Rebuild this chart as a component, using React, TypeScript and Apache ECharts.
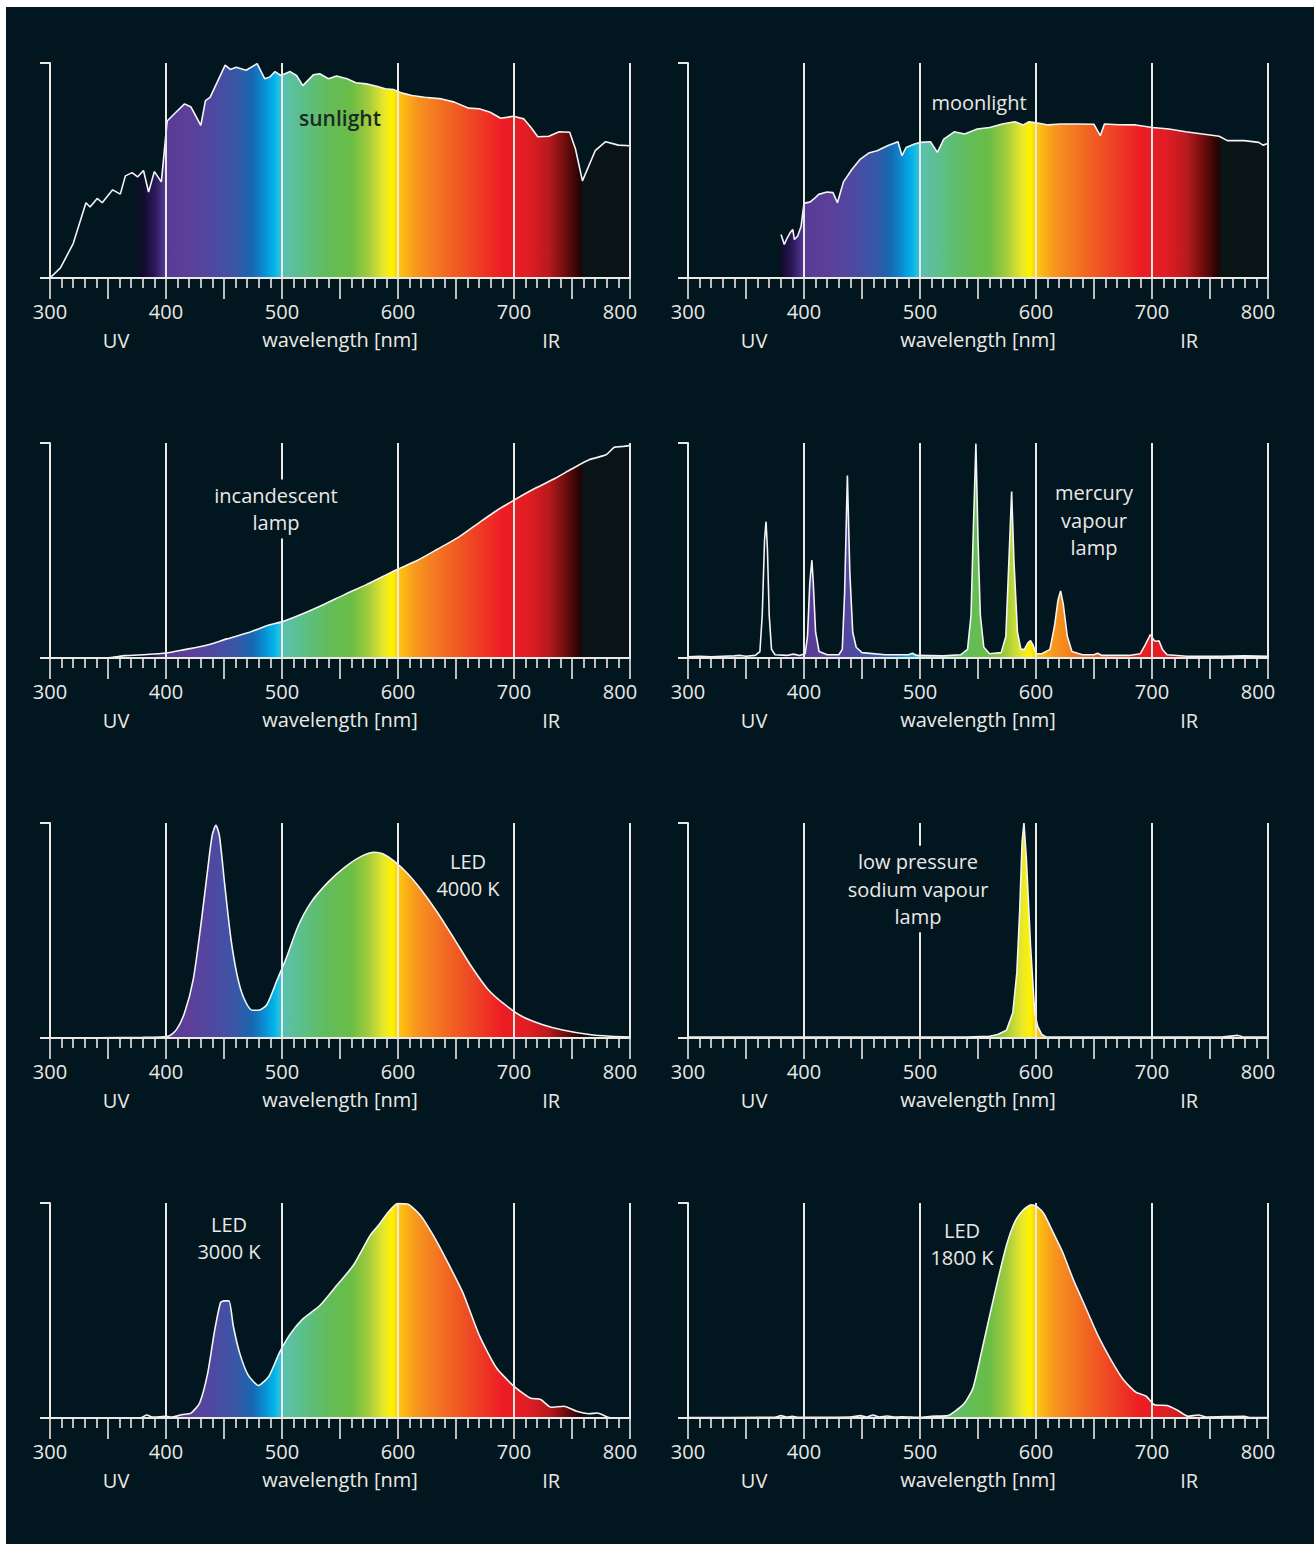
import React, { useEffect, useRef } from "react";
import * as echarts from "echarts";

const BG = "#021620";
const FG = "#ebe9e4";
const FONT = "'Open Sans', 'Noto Sans', sans-serif";

// ---- data: [wavelength nm, relative intensity 0..1] ----
const sunlight: [number, number][] = [
  [300, 0], [309, 0.047], [320, 0.16], [331, 0.35], [334.5, 0.33], [340.7, 0.37], [345, 0.35], [354, 0.41],
  [360.6, 0.39], [365, 0.475], [370.8, 0.49], [375.5, 0.47], [380.6, 0.5], [385, 0.4], [390, 0.495], [396, 0.447],
  [401, 0.73], [407, 0.763], [416, 0.81], [421.6, 0.795], [430, 0.71], [434, 0.825], [438, 0.84], [451, 0.99],
  [455.4, 0.97], [460.5, 0.98], [469, 0.966], [478.6, 0.997], [485, 0.927], [489.5, 0.935], [494, 0.96], [499, 0.942],
  [507, 0.96], [512.5, 0.942], [518, 0.895], [527, 0.945], [532.5, 0.95], [540, 0.927], [547, 0.94], [556, 0.927],
  [563.7, 0.908], [572.6, 0.903], [581.6, 0.892], [589, 0.88], [596, 0.877], [603, 0.861], [612, 0.849], [623, 0.841],
  [637.7, 0.833], [648.6, 0.818], [661, 0.79], [670, 0.787], [679.5, 0.771], [688.5, 0.743], [699.4, 0.752],
  [708.5, 0.74], [714.7, 0.7], [720.5, 0.657], [730, 0.659], [739, 0.68], [748, 0.678], [753, 0.6], [759, 0.452],
  [770, 0.592], [779, 0.634], [790, 0.618], [800, 0.615],
];

const moonlight: [number, number][] = [
  [380.2, 0.202], [383, 0.156], [385.6, 0.187], [388, 0.21], [390.3, 0.226], [391.7, 0.179], [394.6, 0.195],
  [397.5, 0.241], [400, 0.347], [405.4, 0.354], [409, 0.37], [412.6, 0.389], [419.8, 0.4], [425, 0.397], [428.8, 0.35],
  [434, 0.447], [441.4, 0.506], [448.6, 0.553], [455.8, 0.581], [463, 0.592], [472, 0.615], [481, 0.634],
  [484.5, 0.569], [488, 0.607], [495.3, 0.623], [500.7, 0.631], [509, 0.634], [515, 0.584], [520.5, 0.646],
  [529.5, 0.68], [538.5, 0.67], [549.3, 0.693], [560, 0.7], [571, 0.716], [581.7, 0.727], [589, 0.712], [594, 0.727],
  [601.4, 0.721], [610.4, 0.712], [621.2, 0.716], [635.6, 0.716], [650, 0.715], [655.4, 0.662], [659, 0.716],
  [671.6, 0.713], [686, 0.712], [700.4, 0.7], [714.7, 0.693], [729, 0.68], [743.5, 0.67], [757.9, 0.659],
  [765, 0.639], [779.5, 0.639], [792, 0.631], [795.7, 0.618], [800, 0.626],
];

const incandescent: [number, number][] = [
  [300, 0], [349, 0], [365, 0.011], [383.5, 0.016], [400, 0.023], [416, 0.039], [434, 0.058], [452.5, 0.089],
  [470.6, 0.117], [488.8, 0.153], [499.7, 0.168], [517.9, 0.206], [536, 0.249], [554.2, 0.296], [572.3, 0.34],
  [586.9, 0.379], [599.6, 0.413], [616, 0.452], [634, 0.506], [652, 0.561], [670.3, 0.631], [684.8, 0.685],
  [699.3, 0.732], [717.4, 0.787], [735.6, 0.836], [750, 0.88], [764.8, 0.922], [779.3, 0.945], [786.5, 0.98],
  [793.8, 0.984], [800, 0.989],
];

const mercury: [number, number][] = [
  [300, 0.006], [310, 0.008], [320, 0.006], [330, 0.008], [340, 0.01], [345, 0.012], [350, 0.008], [358, 0.012],
  [362, 0.03], [364, 0.2], [366, 0.55], [367.3, 0.634], [368.5, 0.5], [370, 0.2], [372, 0.04], [375, 0.015],
  [385, 0.012], [391, 0.018], [396, 0.012], [401, 0.02], [403, 0.1], [405, 0.35], [406.8, 0.455], [408, 0.35],
  [410, 0.12], [413, 0.03], [420, 0.015], [430, 0.015], [433, 0.04], [435, 0.3], [437.4, 0.849], [439.5, 0.4],
  [442, 0.12], [445, 0.05], [450, 0.025], [470, 0.015], [490, 0.015], [493.5, 0.022], [497, 0.012], [520, 0.01],
  [535, 0.015], [541, 0.04], [544, 0.2], [546, 0.6], [548.2, 0.997], [550, 0.55], [552, 0.2], [555, 0.05],
  [560, 0.02], [570, 0.025], [574, 0.1], [577, 0.5], [579, 0.774], [581, 0.45], [584, 0.12], [587, 0.04],
  [590, 0.04], [593, 0.07], [595.3, 0.081], [597.5, 0.06], [600, 0.02], [605, 0.02], [612, 0.04], [616, 0.15],
  [619, 0.27], [621.2, 0.312], [623.5, 0.25], [627, 0.1], [631, 0.03], [640, 0.015], [650, 0.015], [653, 0.022],
  [657, 0.012], [680, 0.012], [690, 0.02], [694, 0.06], [698.6, 0.109], [702, 0.08], [704, 0.078], [706, 0.08],
  [709, 0.04], [713, 0.015], [730, 0.008], [760, 0.008], [780, 0.01], [800, 0.008],
];

const led4000: [number, number][] = [
  [300, 0], [380, 0.003], [401.7, 0.008], [409, 0.039], [416, 0.117], [423.5, 0.273], [430.7, 0.553], [436, 0.787],
  [439.8, 0.942], [443, 0.989], [446, 0.942], [450.7, 0.709], [456, 0.46], [461.5, 0.288], [467, 0.187],
  [474.3, 0.129], [479.7, 0.129], [487, 0.156], [496, 0.273], [503.3, 0.366], [514, 0.522], [525, 0.631],
  [539.6, 0.724], [554, 0.794], [568.7, 0.846], [579.6, 0.864], [586.9, 0.857], [597.7, 0.818], [608.6, 0.763],
  [619.5, 0.693], [634, 0.584], [648.6, 0.46], [663, 0.335], [677.6, 0.226], [692, 0.156], [706.7, 0.101],
  [724.8, 0.062], [743, 0.036], [764.8, 0.016], [783, 0.008], [800, 0.005],
];

const sodium: [number, number][] = [
  [300, 0.004], [350, 0.004], [400, 0.005], [450, 0.004], [500, 0.005], [540, 0.004], [560, 0.008], [567, 0.016],
  [574.5, 0.036], [580, 0.117], [583.5, 0.304], [586, 0.6], [588, 0.911], [589.6, 1.0], [591.7, 0.833],
  [595.3, 0.428], [598.9, 0.117], [601.4, 0.055], [605, 0.016], [608.6, 0.005], [650, 0.004], [700, 0.004],
  [760, 0.004], [770, 0.01], [774, 0.012], [778, 0.006], [800, 0.004],
];

const led3000: [number, number][] = [
  [300, 0], [378, 0], [380, 0.005], [383.5, 0.014], [388, 0.004], [395, 0.006], [400, 0.008], [405, 0.004],
  [410, 0.01], [414, 0.016], [421.6, 0.023], [429, 0.07], [436, 0.21], [441.6, 0.397], [447, 0.537], [450, 0.545],
  [454.3, 0.545], [458, 0.428], [463.4, 0.304], [470.6, 0.202], [479.7, 0.151], [488.8, 0.195], [497.8, 0.304],
  [506.9, 0.389], [517.8, 0.46], [532.4, 0.522], [546.9, 0.615], [561.4, 0.709], [576, 0.849], [583.2, 0.896],
  [590.5, 0.95], [599.6, 0.997], [608.6, 0.994], [619.5, 0.942], [630.4, 0.849], [641.3, 0.74], [655.8, 0.584],
  [670.3, 0.382], [684.8, 0.234], [699.3, 0.151], [713.9, 0.093], [723, 0.086], [732, 0.05], [743, 0.055],
  [754, 0.031], [764.8, 0.02], [772, 0.023], [781, 0.003], [785, 0], [800, 0],
];

const led1800: [number, number][] = [
  [300, 0.002], [375, 0.003], [380, 0.011], [385, 0.004], [390, 0.008], [395, 0.003], [440, 0.004],
  [448.6, 0.011], [454, 0.005], [459.4, 0.014], [465, 0.005], [472, 0.009], [478, 0.004], [484.5, 0.006],
  [500, 0.003], [509.7, 0.008], [524, 0.011], [531.3, 0.036], [538.5, 0.07], [545.7, 0.14], [552.9, 0.304],
  [560, 0.475], [567.3, 0.646], [574.5, 0.802], [581.7, 0.911], [588.8, 0.966], [596, 0.992], [601.4, 0.981],
  [606.8, 0.95], [614, 0.872], [623, 0.771], [632, 0.646], [642.8, 0.514], [653.6, 0.382], [664.4, 0.273],
  [675.2, 0.179], [686, 0.12], [695, 0.101], [702, 0.062], [713, 0.058], [722, 0.036], [731, 0.008], [740, 0.014],
  [747, 0.005], [779.5, 0.008], [785, 0.002], [800, 0.002],
];

// visible spectrum colour stops [wavelength, colour]
const spectrum: [number, string][] = [
  [300, BG], [372, BG], [380, "#120a2c"], [390, "#2a1858"], [400, "#573b96"], [420, "#5d3f99"], [440, "#4f48a0"],
  [460, "#3a56a6"], [475, "#1769b3"], [485, "#0a8fd3"], [493, "#00b3e8"], [497, "#25bde0"], [503, "#5cc0aa"],
  [520, "#5cbf85"], [540, "#62bc5a"], [560, "#6abd45"], [575, "#a5cc3c"], [588, "#e8e82a"], [595, "#fff200"],
  [602, "#fdc010"], [615, "#f7981e"], [640, "#f26b22"], [665, "#ee4424"], [690, "#ed1c24"], [712, "#e11d24"],
  [730, "#b81a1e"], [745, "#6a0c0c"], [757, "#250303"], [760, "#0a1316"], [800, "#0a1316"],
];

const tickLabels = [300, 400, 500, 600, 700, 800];

// ---- layout ----
const ROW_TOP = [63, 443, 823, 1203];
const COL_LEFT = [50, 688];
const GRID_W = 580;
const GRID_H = 215;

type Panel = {
  data: [number, number][];
  row: number;
  col: number;
  label: string;
  lx: number; // label centre, relative to grid left
  ly: number; // label centre, relative to grid top
  dark?: boolean;
  box?: boolean;
  smooth?: number;
};

const panels: Panel[] = [
  { data: sunlight, row: 0, col: 0, label: "sunlight", lx: 290, ly: 55, dark: true },
  { data: moonlight, row: 0, col: 1, label: "moonlight", lx: 291, ly: 39 },
  { data: incandescent, row: 1, col: 0, label: "incandescent\nlamp", lx: 226, ly: 66, box: true, smooth: 0.2 },
  { data: mercury, row: 1, col: 1, label: "mercury\nvapour\nlamp", lx: 406, ly: 77 },
  { data: led4000, row: 2, col: 0, label: "LED\n4000 K", lx: 418, ly: 52, smooth: 0.25 },
  { data: sodium, row: 2, col: 1, label: "low pressure\nsodium vapour\nlamp", lx: 230, ly: 66, box: true },
  { data: led3000, row: 3, col: 0, label: "LED\n3000 K", lx: 179, ly: 35, smooth: 0.2 },
  { data: led1800, row: 3, col: 1, label: "LED\n1800 K", lx: 274, ly: 41, smooth: 0.2 },
];

function gradientFor(data: [number, number][]) {
  const x0 = data[0][0];
  const x1 = data[data.length - 1][0];
  const stops = spectrum.map(([l, c]) => ({
    offset: Math.min(1, Math.max(0, (l - x0) / (x1 - x0))),
    color: c,
  }));
  return new echarts.graphic.LinearGradient(0, 0, 1, 0, stops);
}

function buildOption() {
  const grid: any[] = [];
  const xAxis: any[] = [];
  const yAxis: any[] = [];
  const series: any[] = [];
  const graphic: any[] = [];

  panels.forEach((p, i) => {
    const left = COL_LEFT[p.col];
    const top = ROW_TOP[p.row];
    grid.push({ left, top, width: GRID_W, height: GRID_H });

    // ticks, labels, baseline
    xAxis.push({
      type: "value",
      gridIndex: i,
      min: 300,
      max: 800,
      interval: 50,
      z: 5,
      position: "bottom",
      name: "wavelength [nm]",
      nameLocation: "middle",
      nameGap: 51,
      nameTextStyle: { color: FG, fontSize: 20, fontFamily: FONT },
      axisLine: { show: true, lineStyle: { color: FG, width: 2 } },
      axisTick: { show: true, length: 21, lineStyle: { color: FG, width: 1.6 } },
      minorTick: { show: true, splitNumber: 5, length: 10, lineStyle: { color: FG, width: 1.6 } },
      splitLine: { show: false },
      axisLabel: {
        margin: 23,
        color: FG,
        fontSize: 20,
        fontFamily: FONT,
        formatter: (v: number) =>
          tickLabels.includes(v) ? (v === 800 ? `{e|${v}}` : `${v}`) : "",
        rich: { e: { padding: [0, 20, 0, 0], color: FG, fontSize: 20, fontFamily: FONT } },
      },
    });
    // vertical lines every 100 nm
    xAxis.push({
      type: "value",
      gridIndex: i,
      min: 300,
      max: 800,
      interval: 100,
      z: 5,
      position: "bottom",
      axisLine: { show: false },
      axisTick: { show: false },
      axisLabel: { show: false },
      splitLine: { show: true, lineStyle: { color: FG, width: 2 } },
    });
    yAxis.push({
      type: "value",
      gridIndex: i,
      min: 0,
      max: 1,
      interval: 1,
      z: 5,
      axisLine: { show: true, lineStyle: { color: FG, width: 2 } },
      axisTick: { show: true, length: 10, lineStyle: { color: FG, width: 2 } },
      axisLabel: { show: false },
      splitLine: { show: false },
    });
    series.push({
      type: "line",
      xAxisIndex: i * 2,
      yAxisIndex: i,
      data: p.data,
      showSymbol: false,
      smooth: p.smooth ?? false,
      z: 2,
      lineStyle: { color: "#f4f4f4", width: 1.6 },
      areaStyle: { color: gradientFor(p.data), opacity: 1 },
    });

    graphic.push({
      type: "text",
      x: left + p.lx,
      y: top + p.ly,
      z: 100,
      style: {
        text: p.label,
        fill: p.dark ? "#1c2a24" : FG,
        font: `${p.dark ? 600 : 400} ${p.dark ? 21 : 20}px ${FONT}`,
        align: "center",
        verticalAlign: "middle",
        lineHeight: 27.5,
        backgroundColor: p.box ? BG : undefined,
        padding: p.box ? [2, 6] : 0,
      },
    });
    const ly = top + GRID_H + 62;
    graphic.push({
      type: "text",
      x: left + ((357 - 300) / 500) * GRID_W,
      y: ly,
      z: 100,
      style: { text: "UV", fill: FG, font: `20px ${FONT}`, align: "center", verticalAlign: "middle" },
    });
    graphic.push({
      type: "text",
      x: left + ((732 - 300) / 500) * GRID_W,
      y: ly,
      z: 100,
      style: { text: "IR", fill: FG, font: `20px ${FONT}`, align: "center", verticalAlign: "middle" },
    });
  });

  return {
    animation: false,
    backgroundColor: "transparent",
    grid,
    xAxis,
    yAxis,
    series,
    graphic,
  };
}

export default function App() {
  const ref = useRef<HTMLDivElement>(null);
  useEffect(() => {
    if (!ref.current) return;
    const chart = echarts.init(ref.current, undefined, { renderer: "svg" });
    chart.setOption(buildOption() as any);
    return () => chart.dispose();
  }, []);
  return (
    <div
      style={{
        position: "absolute",
        left: 0,
        top: 0,
        width: 1314,
        height: 1544,
        background: "#ffffff",
        overflow: "hidden",
      }}
    >
      <div style={{ position: "absolute", left: 6, top: 7, right: 0, bottom: 0, background: BG }} />
      <div ref={ref} style={{ position: "absolute", left: 0, top: 0, width: 1314, height: 1544 }} />
    </div>
  );
}
